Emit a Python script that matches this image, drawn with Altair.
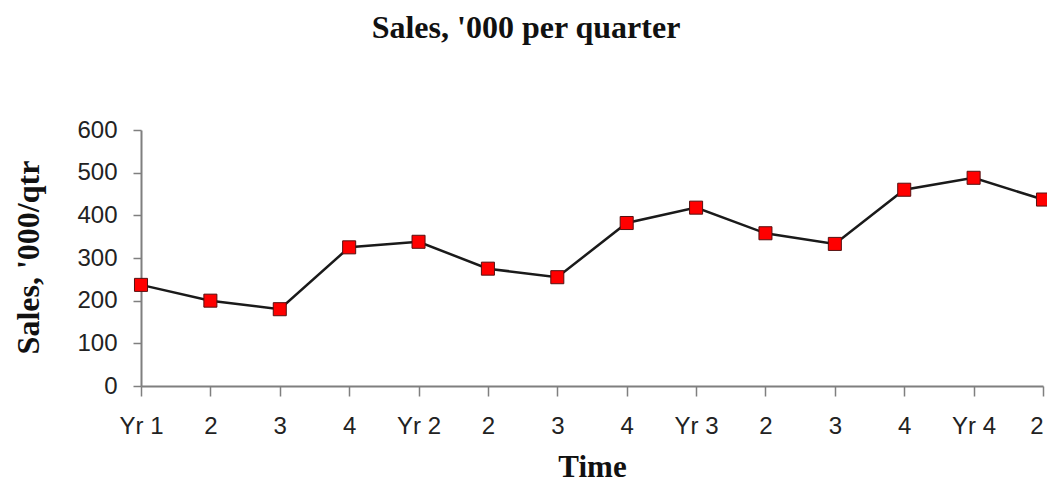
import altair as alt
import pandas as pd

labels = ["Yr 1", "2", "3", "4", "Yr 2", "2", "3", "4", "Yr 3", "2", "3", "4", "Yr 4", "2"]
sales = [237, 200, 180, 325, 338, 275, 255, 382, 418, 358, 333, 460, 488, 437]

df = pd.DataFrame({"idx": list(range(len(labels))), "label": labels, "sales": sales})

label_expr = "[" + ",".join(f"'{l}'" for l in labels) + "][datum.value]"
last = len(labels) - 1

x = alt.X("idx:Q", scale=alt.Scale(domain=[0, last], nice=False, zero=False),
          axis=alt.Axis(title="Time", values=list(range(len(labels))), labelExpr=label_expr,
                        grid=False, tickSize=10, labelPadding=18, labelFontSize=24,
                        labelFont="Liberation Sans", labelColor="#222", labelBaseline="top",
                        labelAlign={"condition": {"test": f"datum.value == {last}", "value": "right"},
                                    "value": "center"},
                        titleFont="Liberation Serif", titleFontSize=31, titleFontWeight="bold",
                        titleColor="#111", titleY=90, titleBaseline="alphabetic",
                        domainColor="#7f7f7f", tickColor="#7f7f7f", domainWidth=2, tickWidth=1.5,
                        labelFlush=False, labelOverlap=False))
y = alt.Y("sales:Q", scale=alt.Scale(domain=[0, 600], nice=False),
          axis=alt.Axis(title="Sales, '000/qtr", values=[0, 100, 200, 300, 400, 500, 600],
                        grid=False, tickSize=8, labelPadding=16, labelFontSize=24,
                        labelFont="Liberation Sans", labelColor="#222",
                        titleFont="Liberation Serif", titleFontSize=32, titleFontWeight="bold",
                        titleColor="#111", titleX=-113, titleY=127, titleAngle=-90,
                        titleBaseline="middle", titleAlign="center",
                        domainColor="#7f7f7f", tickColor="#7f7f7f", domainWidth=2, tickWidth=1.5))

base = alt.Chart(df)
line = base.mark_line(color="#1a1a1a", strokeWidth=2.5).encode(x=x, y=y)
pts = base.mark_point(shape="square", filled=True, color="#ff0000", size=170,
                      stroke="#551111", strokeWidth=1, opacity=1).encode(x=x, y=y)

chart = (line + pts).properties(
    width=902, height=256,
    title=alt.TitleParams("Sales, '000 per quarter", font="Liberation Serif", fontSize=32,
                          fontWeight="bold", color="#111", anchor="middle", dx=-66, offset=73),
    autosize=alt.AutoSizeParams(type="none"),
    padding={"left": 133, "top": 122, "right": 4, "bottom": 96},
).configure_view(stroke=None)

chart.save("out.html", embed_options={"renderer": "svg", "actions": False})
